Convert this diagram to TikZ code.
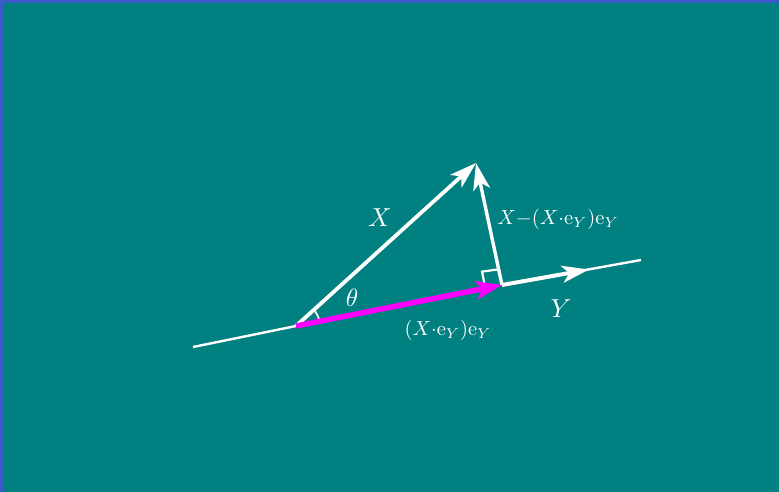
\documentclass[tikz,border=0pt]{standalone}
\usetikzlibrary{arrows.meta,calc}
\definecolor{bg}{RGB}{0,128,128}
\definecolor{frameblue}{RGB}{60,90,200}
\definecolor{mag}{RGB}{255,0,255}
\begin{document}
\begin{tikzpicture}[x=1pt,y=-1pt,
  vec/.style={white,line width=#1,-{Stealth[length=27pt,width=17pt,inset=7pt]}},
  thin line/.style={white,line width=2.4pt},
  biglabel/.style={white,font=\fontsize{10}{12}\selectfont},
  smalllabel/.style={white,font=\fontsize{10}{12}\selectfont}]
\fill[frameblue] (0,0) rectangle (779,492);
\fill[bg] (3,3) rectangle (779,492);
\useasboundingbox (0,0) rectangle (779,492);
\coordinate (L) at (193,347);
\coordinate (O) at (296,326);
\coordinate (P) at (502,285);
\coordinate (T) at (476,163);
\coordinate (R) at (641,260);
\coordinate (Yt) at (589,269.5);
% base line
\draw[thin line] (L) -- (O);
\draw[thin line] (P) -- (R);
% right angle mark
\draw[white,line width=2.2pt] ($(P)!17pt!(O)$) -- ++(-3.3,-16.7) -- ($(P)!16pt!(T)$);
% angle arc
\draw[white,line width=1.8pt] ($(O)!24pt!(P)$) arc[start angle=-11.2,end angle=-42,radius=24];
% vectors
\draw[vec=3.8pt] (O) -- (T);
\draw[vec=3.4pt] (P) -- (T);
\draw[vec=4pt] (P) -- (Yt);
\draw[mag,line width=5.5pt,-{Stealth[length=26pt,width=18pt,inset=6pt]}] (O) -- (P);
% labels
\node[biglabel] (lX) at (380,218) {\scalebox{2.6}{$X$}};
\node[biglabel] (lth) at (352,298) {\scalebox{2.5}{$\theta$}};
\node[biglabel] (lY) at (561,309) {\scalebox{2.6}{$Y$}};
\node[smalllabel] (lp) at (448,330) {\scalebox{2.05}{$(X{\cdot}\mathrm{e}_Y)\mathrm{e}_Y$}};
\node[smalllabel] (lr) at (558,219) {\scalebox{2.05}{$X{-}(X{\cdot}\mathrm{e}_Y)\mathrm{e}_Y$}};
\end{tikzpicture}
\end{document}
